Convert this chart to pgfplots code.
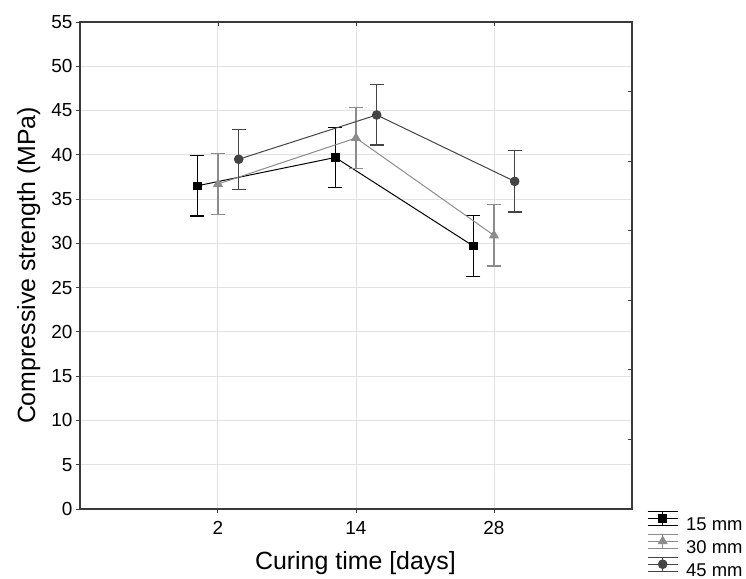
\documentclass[border=0pt]{standalone}
\usepackage{fontspec}
\setmainfont{Liberation Sans}
\usepackage{pgfplots}
\pgfplotsset{compat=1.18}
\definecolor{axgray}{HTML}{3A3A3A}
\definecolor{gridgray}{HTML}{E2E2E2}
\definecolor{s30}{HTML}{8C8C8C}
\definecolor{s45}{HTML}{444444}

\begin{document}
\begin{tikzpicture}
\begin{axis}[name=main, scale only axis, width=552bp, height=487bp,
    xmin=0, xmax=4, ymin=0, ymax=55,
    xtick={1,2,3}, xticklabels={2,14,28}, ytick={0,5,...,55},
    xtick pos=left, ytick pos=left, tick align=outside, major tick length=4bp,
    tick style={axgray, line width=1bp},
    axis line style={axgray, line width=1.3bp},
    grid=major, major grid style={gridgray, line width=1bp},
    tick label style={font=\fontsize{19}{21}\selectfont},
    xticklabel style={yshift=-5bp},
    /pgf/number format/assume math mode=true,
    xlabel={Curing time [days]}, ylabel={Compressive strength (MPa)},
    label style={font=\fontsize{25}{29}\selectfont},
    xlabel style={at={(axis description cs:0.499,-0.111)}, anchor=center},
    ylabel style={at={(axis description cs:-0.093,0.5)}, anchor=center},
    legend style={at={(rel axis cs:1,0)}, anchor=north west, xshift=15bp, yshift=-1.5bp,
        draw=none, fill=none, inner sep=0pt, row sep=1.5bp,
        font=\fontsize{18.5}{20}\selectfont,
        nodes={inner sep=0pt, text height=13bp, text depth=2bp},
        /tikz/every odd column/.append style={column sep=8bp}},
    legend cell align=left,
    legend image code/.code={%
        \draw[mark=none,#1,line width=1bp] (0bp,6.5bp) -- (30bp,6.5bp)
            (0bp,13.5bp) -- (30bp,13.5bp) (0bp,-0.5bp) -- (30bp,-0.5bp)
            (15bp,-0.5bp) -- (15bp,13.5bp);
        \draw[#1,only marks] plot coordinates {(15bp,6.5bp)};
    },
    error bars/error bar style={line width=1.2bp},
    error bars/error mark options={rotate=90, mark size=7bp, line width=1.2bp}]

\addplot[black, line width=1bp, mark=square*, mark size=3.8bp, mark options={solid},
    error bars/.cd, y dir=both, y explicit]
    coordinates {(0.85,36.5) +- (0,3.4) (1.85,39.7) +- (0,3.4) (2.85,29.7) +- (0,3.45)};
\addlegendentry{15 mm}
\addplot[s30, line width=1bp, mark=triangle*, mark size=4.8bp, mark options={solid},
    error bars/.cd, y dir=both, y explicit]
    coordinates {(1,36.7) +- (0,3.45) (2,41.9) +- (0,3.45) (3,30.9) +- (0,3.45)};
\addlegendentry{30 mm}
\addplot[s45, line width=1bp, mark=*, mark size=4.3bp, mark options={solid},
    error bars/.cd, y dir=both, y explicit]
    coordinates {(1.15,39.5) +- (0,3.4) (2.15,44.5) +- (0,3.4) (3.15,37.0) +- (0,3.45)};
\addlegendentry{45 mm}
\end{axis}

\begin{axis}[scale only axis, width=552bp, height=487bp,
    xmin=0, xmax=4, ymin=0, ymax=55,
    xtick={1,2,3}, ytick={7.857,15.714,23.571,31.429,39.286,47.143},
    xticklabels={}, yticklabels={},
    xtick pos=right, ytick pos=right, tick align=inside, major tick length=4bp,
    tick style={axgray, line width=1bp},
    axis line style={draw=none}]
\end{axis}

\pgfresetboundingbox
\path (main.south west) ++(-80bp,-70bp) rectangle ++(746bp,579bp);
\end{tikzpicture}
\end{document}
